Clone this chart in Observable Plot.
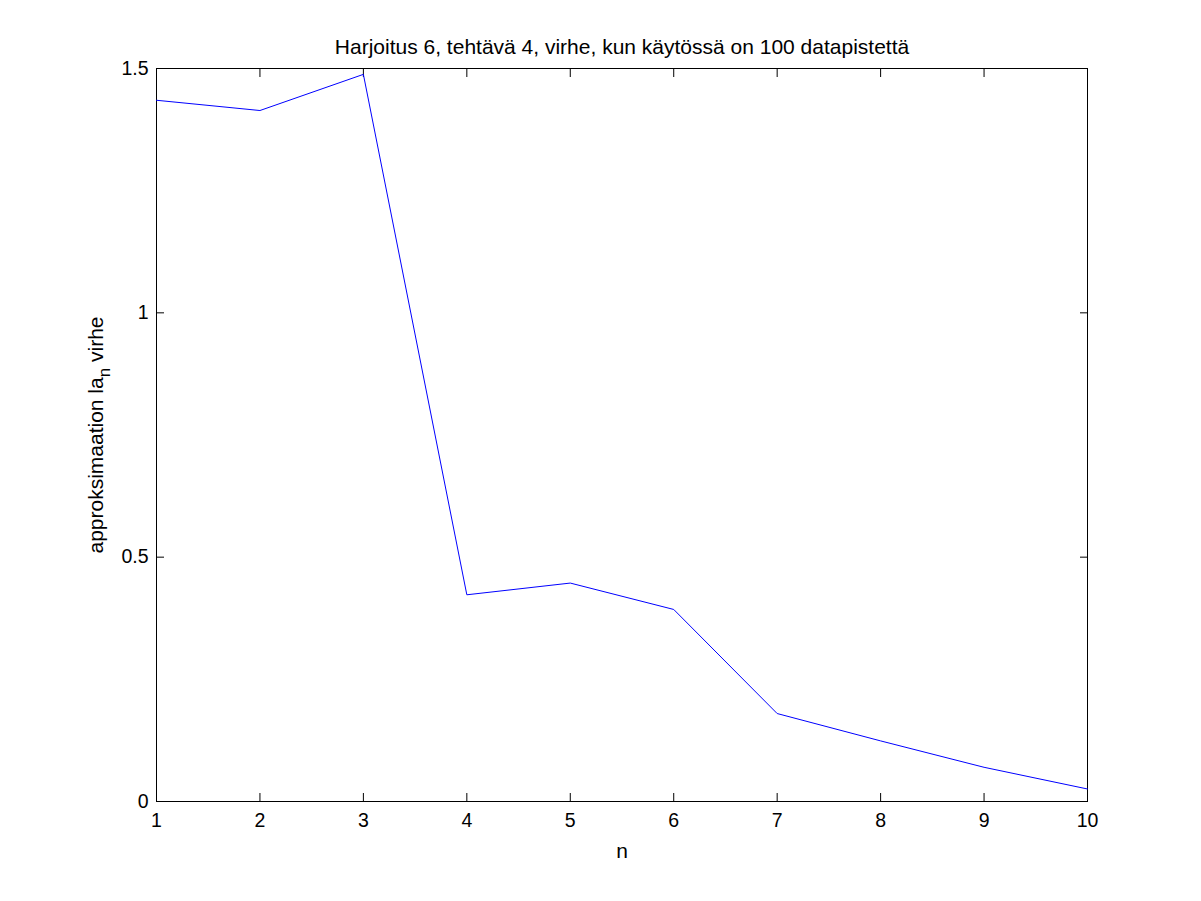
<!DOCTYPE html>
<html>
<head>
<meta charset="utf-8">
<script src="https://cdn.jsdelivr.net/npm/d3@7"></script>
<script src="https://cdn.jsdelivr.net/npm/@observablehq/plot@0.6"></script>
<style>
  html, body { margin: 0; padding: 0; background: #fff; }
  #chart { width: 1201px; height: 901px; }
</style>
</head>
<body>
<div id="chart"></div>
<script>
const n = [1, 2, 3, 4, 5, 6, 7, 8, 9, 10];
const virhe = [1.435, 1.414, 1.488, 0.423, 0.447, 0.393, 0.180, 0.124, 0.070, 0.0256];
const xTicks = [1, 2, 3, 4, 5, 6, 7, 8, 9, 10];
const yTicks = [0, 0.5, 1, 1.5];
const title = "Harjoitus 6, tehtävä 4, virhe, kun käytössä on 100 datapistettä";
const xLabel = "n";

const data = n.map((v, i) => ({n: v, virhe: virhe[i]}));

const chart = Plot.plot({
  width: 1201,
  height: 901,
  marginTop: 68,
  marginRight: 114,
  marginBottom: 100,
  marginLeft: 156,
  style: {fontFamily: "'Liberation Sans', Arial, sans-serif", fontSize: "19px", color: "#000", background: "#fff"},
  x: {domain: [1, 10]},
  y: {domain: [0, 1.5]},
  marks: [
    Plot.frame({stroke: "#000", strokeWidth: 1}),
    Plot.axisX(xTicks, {anchor: "bottom", tickSize: -8, tickPadding: 20, fontSize: 19.5, label: null}),
    Plot.axisX(xTicks, {anchor: "top", tickSize: -8, tickFormat: () => "", label: null}),
    Plot.axisY(yTicks, {anchor: "left", tickSize: -8, tickPadding: 16, fontSize: 19.5, label: null, tickFormat: d => String(d)}),
    Plot.axisY(yTicks, {anchor: "right", tickSize: -8, tickFormat: () => "", label: null}),
    Plot.line(data, {x: "n", y: "virhe", stroke: "#0000ff", strokeWidth: 1}),
    Plot.text([title], {frameAnchor: "top", dy: -15, lineAnchor: "bottom", fontSize: 21, fill: "#000"}),
    Plot.text([xLabel], {frameAnchor: "bottom", dy: 42, lineAnchor: "top", fontSize: 21, fill: "#000"}),
    Plot.text(["approksimaation la|n| virhe"], {frameAnchor: "left", dx: -60, rotate: -90, textAnchor: "middle", lineAnchor: "middle", fontSize: 21, fill: "#000", className: "ylab"})
  ]
});

document.getElementById("chart").appendChild(chart);

// subscript in the y label
d3.select(chart).selectAll(".ylab text").each(function() {
  const t = d3.select(this);
  const parts = t.text().split("|");
  t.text("");
  t.append("tspan").text(parts[0]);
  t.append("tspan").attr("dy", "0.4em").attr("font-size", "17px").text(parts[1]);
  t.append("tspan").attr("dy", "-0.35em").text(parts[2]);
});
</script>
</body>
</html>
